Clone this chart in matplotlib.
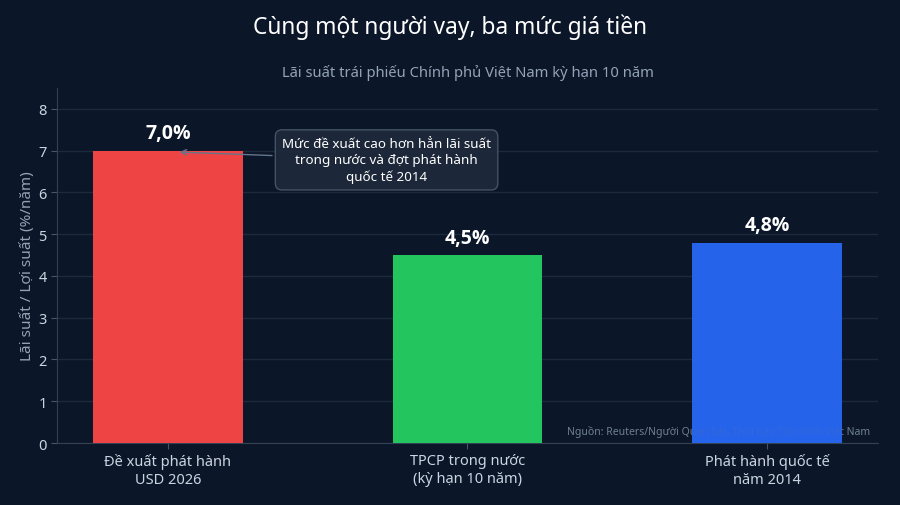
import matplotlib
matplotlib.use("Agg")
import matplotlib.pyplot as plt

plt.rcParams["font.family"] = ["Noto Sans", "DejaVu Sans"]

# data
categories = ["Đề xuất phát hành\nUSD 2026", "TPCP trong nước\n(kỳ hạn 10 năm)", "Phát hành quốc tế\nnăm 2014"]
rates = [7.0, 4.5, 4.8]
labels = ["7,0%", "4,5%", "4,8%"]
bar_colors = ["#ef4444", "#22c55e", "#2563eb"]
source = "Nguồn: Reuters/Người Quan Sát, Thời báo Tài chính Việt Nam"

BG = "#0b1628"
GRID = "#1c2a3d"
TICK = "#cbd5e1"
MUTED = "#94a3b8"

fig = plt.figure(figsize=(9, 5.06), dpi=100, facecolor=BG)
ax = fig.add_axes([0.0633, 0.1225, 0.9122, 0.7015], facecolor=BG)

x = list(range(len(categories)))
ax.bar(x, rates, width=0.5, color=bar_colors, zorder=3)

for xi, v, lab in zip(x, rates, labels):
    ax.text(xi, v + 0.18, lab, ha="center", va="bottom", color="white",
            fontsize=14, fontweight="bold", family=["Open Sans", "DejaVu Sans"], zorder=4)

ax.set_xlim(-0.37, 2.37)
ax.set_ylim(0, 8.5)
ax.set_yticks(range(0, 9))
ax.set_xticks(x)
ax.set_xticklabels(categories, fontsize=10.5, color=TICK)
ax.tick_params(axis="y", labelsize=10.5, colors=TICK)
ax.tick_params(axis="both", color="#475569", length=4)
ax.grid(axis="y", color=GRID, lw=1, zorder=0)
ax.set_axisbelow(True)

for s in ["top", "right"]:
    ax.spines[s].set_visible(False)
for s in ["left", "bottom"]:
    ax.spines[s].set_color("#334155")

ax.set_ylabel("Lãi suất / Lợi suất (%/năm)", fontsize=11, color=MUTED, labelpad=2)

ax.annotate("Mức đề xuất cao hơn hẳn lãi suất\ntrong nước và đợt phát hành\nquốc tế 2014",
            xy=(0.03, 6.97), xytext=(0.73, 6.78), ha="center", va="center",
            fontsize=9.7, color="white", zorder=5, linespacing=1.35,
            bbox=dict(boxstyle="round,pad=0.5", fc="#1e293b", ec="#475569", alpha=0.95),
            arrowprops=dict(arrowstyle="->", color="#64748b", lw=1))

# source note sits behind the bars, faintly visible through them
ax.text(0.99, 0.035, source, transform=ax.transAxes, ha="right", va="center",
        fontsize=7.5, color="#6b7a8f", zorder=1)
ax.text(0.99, 0.035, source, transform=ax.transAxes, ha="right", va="center",
        fontsize=7.5, color="#6b7a8f", alpha=0.2, zorder=4)

fig.text(0.5, 0.947, "Cùng một người vay, ba mức giá tiền", ha="center", va="center",
         fontsize=16.4, color="white")
ax.text(0.5, 1.045, "Lãi suất trái phiếu Chính phủ Việt Nam kỳ hạn 10 năm", ha="center",
        va="center", fontsize=10.6, color=MUTED, transform=ax.transAxes)

fig.savefig("out.png", dpi=100, facecolor=BG)
